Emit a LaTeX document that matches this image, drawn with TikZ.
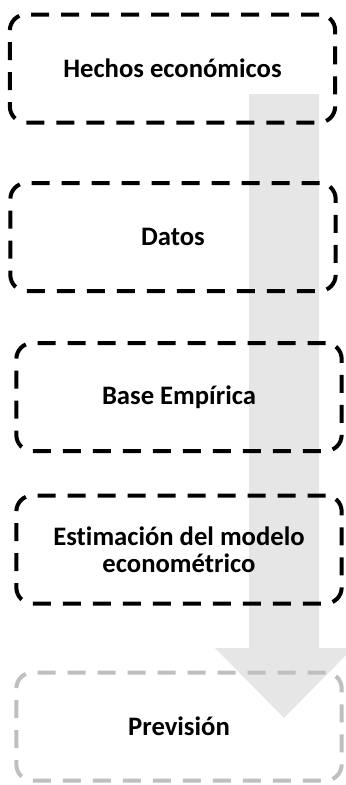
\documentclass[tikz,border=0pt]{standalone}
\usepackage{fontspec}
\setmainfont{Carlito}[Ligatures=NoCommon]
\definecolor{flowgray}{RGB}{230,230,230}
\definecolor{futuregray}{RGB}{191,191,191}
\tikzset{
  stage/.style={draw, line width=3pt, dash pattern=on 13.5pt off 9pt,
    rounded corners=12pt, minimum width=244pt, minimum height=81pt,
    align=center, font=\fontsize{20}{20.5}\selectfont\bfseries},
  stagegray/.style={stage, draw=futuregray},
}

\begin{document}
\begin{tikzpicture}[x=0.75pt, y=-0.75pt]
    \useasboundingbox (0, 0) rectangle (346, 785);
    \begin{scope}
    \clip (0, 0) rectangle (346, 785);
    \fill[flowgray] (249, 94) -- (319, 94) -- (319, 648) -- (353, 648)
        -- (284, 718) -- (215, 648) -- (249, 648) -- cycle;
    \end{scope}

    \node[stage] (hechos) at (172.5, 68.5) {Hechos económicos};
    \node[stage] (datos) at (173, 237) {Datos};
    \node[stage] (base) at (179, 397) {Base Empírica};
    \node[stage] (estim) at (179, 549.5) {Estimación del modelo\\econométrico};
    \node[stagegray] (prev) at (179, 726.5) {Previsión};
\end{tikzpicture}
\end{document}
